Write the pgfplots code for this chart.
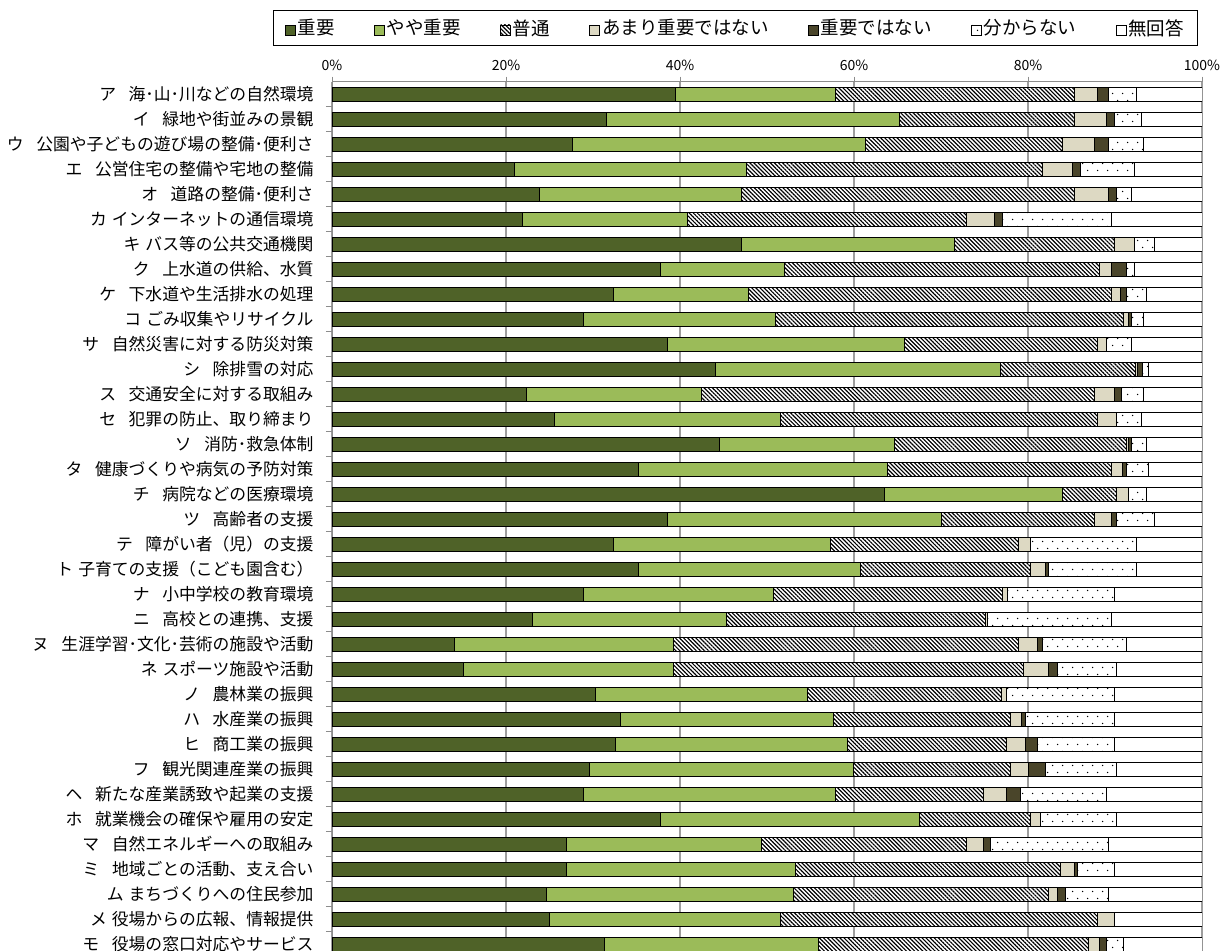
\documentclass[border=0pt]{standalone}
\usepackage{pgfplots}
\pgfplotsset{compat=1.18}
\usepackage{pgfplotstable}
\usetikzlibrary{patterns,patterns.meta}
\usepackage{fontspec}
\setmainfont{Noto Sans CJK JP}

\definecolor{juyo}{HTML}{4F6228}
\definecolor{yaya}{HTML}{9BBB59}
\definecolor{amari}{HTML}{DDD9C3}
\definecolor{nai}{HTML}{4A452A}

% sparse staggered dots for "分からない"
\pgfdeclarepatternformonly{sparsedots}{\pgfqpoint{-1bp}{-1bp}}{\pgfqpoint{11bp}{15bp}}{\pgfqpoint{10bp}{14bp}}{%
  \pgfpathcircle{\pgfqpoint{2.5bp}{3.5bp}}{0.75bp}%
  \pgfpathcircle{\pgfqpoint{7.5bp}{10.5bp}}{0.75bp}%
  \pgfusepath{fill}}

\newcommand\gapL{\hspace{0.75em}}
\newcommand\gapS{\hspace{0.3em}}

% a=重要 b=やや重要 c=普通 d=あまり重要ではない e=重要ではない f=分からない g=無回答
\pgfplotstableread{
y  a    b    c    d   e   f    g
34 39.5 18.4 27.5 2.6 1.3 3.2  7.5
33 31.5 33.7 20.2 3.6 0.9 3.1  7.0
32 27.6 33.7 22.7 3.7 1.6 4.0  6.7
31 21.0 26.7 34.0 3.4 0.9 6.2  7.8
30 23.9 23.2 38.3 3.9 0.9 1.7  8.1
29 21.9 19.0 32.0 3.2 1.0 12.5 10.4
28 47.1 24.4 18.4 2.3 0.0 2.3  5.5
27 37.8 14.2 36.2 1.4 1.7 0.9  7.8
26 32.3 15.6 41.7 1.0 0.7 2.3  6.4
25 28.9 22.1 40.0 0.5 0.4 1.4  6.7
24 38.6 27.2 22.2 1.0 0.0 2.9  8.1
23 44.1 32.7 15.5 0.3 0.6 0.7  6.1
22 22.4 20.1 45.1 2.3 0.8 2.6  6.7
21 25.6 26.0 36.4 2.2 0.0 2.8  7.0
20 44.5 20.1 26.7 0.2 0.4 1.7  6.4
19 35.2 28.7 25.7 1.3 0.4 2.6  6.1
18 63.5 20.5 6.2  1.3 0.0 2.1  6.4
17 38.6 31.5 17.5 2.0 0.6 4.3  5.5
16 32.3 25.0 21.6 1.4 0.0 12.2 7.5
15 35.2 25.5 19.6 1.7 0.4 10.1 7.5
14 28.9 21.9 26.3 0.6 0.0 12.2 10.1
13 23.0 22.4 29.7 0.3 0.0 14.2 10.4
12 14.1 25.1 39.7 2.2 0.6 9.6  8.7
11 15.1 24.1 40.3 2.8 1.1 6.8  9.8
10 30.3 24.4 22.2 0.6 0.0 12.4 10.1
9  33.2 24.4 20.4 1.3 0.4 10.2 10.1
8  32.6 26.7 18.2 2.2 1.4 8.8  10.1
7  29.6 30.3 18.1 2.1 1.9 8.2  9.8
6  28.9 29.0 17.0 2.6 1.6 9.9  11.0
5  37.8 29.7 12.8 1.1 0.0 8.8  9.8
4  27.0 22.4 23.5 2.0 0.8 13.6 10.7
3  27.0 26.3 30.4 1.7 0.3 4.2  10.1
2  24.7 28.3 29.4 1.0 0.9 5.0  10.7
1  25.0 26.6 36.4 1.9 0.0 0.0  10.1
0  31.3 24.6 31.1 1.2 0.8 2.0  9.0
}\data

\begin{document}
\begin{tikzpicture}
\begin{axis}[
  at={(332bp,-81.7bp)}, anchor=north west,
  scale only axis, width=870bp, height=869.25bp,
  xbar stacked, bar width=13.7bp,
  xmin=0, xmax=100, ymin=-0.27, ymax=34.5,
  axis x line*=top, axis y line*=left,
  axis line style={black!45, line width=1bp},
  xtick={0,20,...,100},
  xticklabels={0\%,20\%,40\%,60\%,80\%,100\%},
  xticklabel style={font=\fontsize{14bp}{16bp}\selectfont, yshift=2bp},
  xmajorgrids,
  major grid style={black!38, line width=1.2bp},
  tick align=outside,
  major tick length=5bp, minor tick length=6bp,
  major x tick style={black!45, line width=1bp},
  major y tick style={draw=none},
  minor y tick style={black!45, line width=1bp},
  ytick={0,...,34}, minor y tick num=1,
  yticklabel style={font=\fontsize{16.8bp}{19bp}\selectfont, xshift=-10bp},
  yticklabels={
    モ\gapL 役場の窓口対応やサービス,
    メ\gapS 役場からの広報、情報提供,
    ム\gapS まちづくりへの住民参加,
    ミ\gapL 地域ごとの活動、支え合い,
    マ\gapL 自然エネルギーへの取組み,
    ホ\gapL 就業機会の確保や雇用の安定,
    ヘ\gapL 新たな産業誘致や起業の支援,
    フ\gapL 観光関連産業の振興,
    ヒ\gapL 商工業の振興,
    ハ\gapL 水産業の振興,
    ノ\gapL 農林業の振興,
    ネ\gapS スポーツ施設や活動,
    ヌ\gapL 生涯学習･文化･芸術の施設や活動,
    ニ\gapL 高校との連携、支援,
    ナ\gapL 小中学校の教育環境,
    ト\gapS 子育ての支援（こども園含む）,
    テ\gapL 障がい者（児）の支援,
    ツ\gapL 高齢者の支援,
    チ\gapL 病院などの医療環境,
    タ\gapL 健康づくりや病気の予防対策,
    ソ\gapL 消防･救急体制,
    セ\gapL 犯罪の防止、取り締まり,
    ス\gapL 交通安全に対する取組み,
    シ\gapL 除排雪の対応,
    サ\gapL 自然災害に対する防災対策,
    コ\gapS ごみ収集やリサイクル,
    ケ\gapL 下水道や生活排水の処理,
    ク\gapL 上水道の供給、水質,
    キ\gapS バス等の公共交通機関,
    カ\gapS インターネットの通信環境,
    オ\gapL 道路の整備･便利さ,
    エ\gapL 公営住宅の整備や宅地の整備,
    ウ\gapL 公園や子どもの遊び場の整備･便利さ,
    イ\gapL 緑地や街並みの景観,
    ア\gapL 海･山･川などの自然環境},
  legend columns=7,
  legend style={at={(0.4638,1.0618)}, anchor=center,
    draw=black, line width=1bp, inner xsep=12bp, inner ysep=7bp,
    font=\fontsize{18.5bp}{21bp}\selectfont,
    /tikz/every even column/.append style={column sep=37.5bp}},
  sw/.style={legend image code/.code={
    \draw[##1, line width=0.6bp] (0bp,-7bp) rectangle (10bp,3bp);}},
  every axis plot/.append style={draw=black, line width=1bp},
]
\addplot[fill=juyo, sw] table[x=a, y=y] {\data};
\addplot[fill=yaya, sw] table[x=b, y=y] {\data};
\addplot[fill=white, postaction={pattern={Lines[angle=-45,distance=2.9bp,line width=1.15bp]}, pattern color=black}, sw] table[x=c, y=y] {\data};
\addplot[fill=amari, sw] table[x=d, y=y] {\data};
\addplot[fill=nai, sw] table[x=e, y=y] {\data};
\addplot[fill=white, postaction={pattern=sparsedots, pattern color=black}, sw] table[x=f, y=y] {\data};
\addplot[fill=white, sw] table[x=g, y=y] {\data};
\legend{重要,やや重要,普通,あまり重要ではない,重要ではない,分からない,無回答}
\end{axis}
\pgfresetboundingbox
\path[use as bounding box] (0,0) rectangle (1231bp,-951bp);
\end{tikzpicture}
\end{document}
